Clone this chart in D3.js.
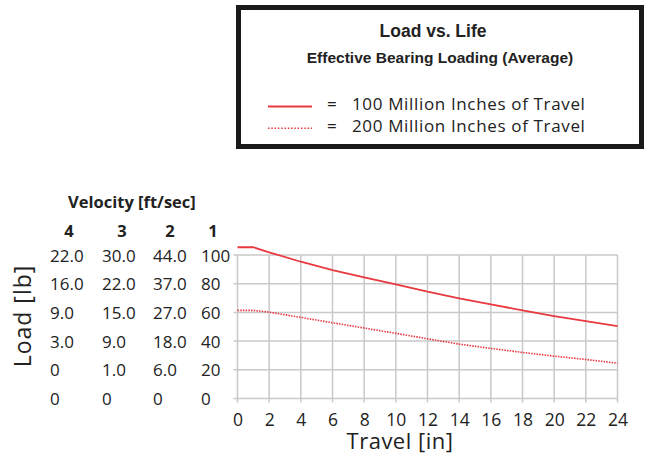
<!DOCTYPE html>
<html><head><meta charset="utf-8">
<script src="https://cdn.jsdelivr.net/npm/d3@7"></script>
<style>body{margin:0;background:#fff}svg{display:block}</style>
</head><body>
<script>
const travel = [0,1,2,4,6,8,10,12,14,16,18,20,22,24];
const load100 = [105.4,105.4,101.9,95.3,89.5,84.4,79.6,74.4,69.8,65.6,61.4,57.4,53.9,50.4];
const load200 = [61.4,61.4,60.2,56.5,52.8,49.1,45.4,41.6,37.9,34.9,32.1,29.5,27.2,24.6];
const xTicks = [0,2,4,6,8,10,12,14,16,18,20,22,24];
const yTicks = [0,20,40,60,80,100];
const velocities = ["4","3","2","1"];
const vel4 = ["0","0","3.0","9.0","16.0","22.0"];
const vel3 = ["0","1.0","9.0","15.0","22.0","30.0"];
const vel2 = ["0","6.0","18.0","27.0","37.0","44.0"];
const legendLabels = ["100 Million Inches of Travel","200 Million Inches of Travel"];

const W=645,H=460;
const svg=d3.select("body").append("svg").attr("width",W).attr("height",H);
const red="#e8393f", grid="#c9c9c9";
const font="'Open Sans', sans-serif";

const x=d3.scaleLinear().domain([0,24]).range([237.5,617.5]);
const y=d3.scaleLinear().domain([0,100]).range([398.5,255]);

// grid
const g=svg.append("g");
g.selectAll("line.v").data(xTicks).join("line")
  .attr("x1",d=>x(d)).attr("x2",d=>x(d)).attr("y1",y(100)).attr("y2",y(0)+4)
  .attr("stroke",grid).attr("stroke-width",1.5);
g.selectAll("line.h").data(yTicks).join("line")
  .attr("x1",x(0)-4).attr("x2",x(24)).attr("y1",d=>y(d)).attr("y2",d=>y(d))
  .attr("stroke",grid).attr("stroke-width",1.5);

// x axis labels
const xa=svg.append("g").attr("transform",`translate(0,${y(0)})`)
  .call(d3.axisBottom(x).tickValues(xTicks).tickSize(0).tickPadding(15));
xa.select(".domain").remove();
xa.selectAll("text").attr("font-family",font).attr("font-size",17.5).attr("fill","#222");

// lines
const line=d3.line().x((d,i)=>x(travel[i])).y(d=>y(d));
svg.append("path").datum(load100).attr("d",line).attr("fill","none").attr("stroke",red).attr("stroke-width",1.8);
svg.append("path").datum(load200).attr("d",line).attr("fill","none").attr("stroke",red).attr("stroke-width",1.6).attr("stroke-dasharray","1.5,1.2");

// velocity table
const cols=[{x:50,v:vel4},{x:102,v:vel3},{x:153,v:vel2}];
cols.forEach(c=>{
  svg.append("g").selectAll("text").data(c.v).join("text")
    .attr("x",c.x).attr("y",(d,i)=>y(yTicks[i])+6.5)
    .attr("font-family",font).attr("font-size",17).attr("fill","#222").text(d=>d);
});
svg.append("g").selectAll("text").data(yTicks).join("text")
  .attr("x",201).attr("y",d=>y(d)+6.5)
  .attr("font-family",font).attr("font-size",17).attr("fill","#222").text(d=>d);
const headX=[69,122,170,213];
svg.append("g").selectAll("text").data(velocities).join("text")
  .attr("x",(d,i)=>headX[i]).attr("y",237).attr("text-anchor","middle")
  .attr("font-family",font).attr("font-weight","bold").attr("font-size",16.5).attr("fill","#222").text(d=>d);
svg.append("text").attr("x",68).attr("y",208).attr("font-family",font).attr("font-weight","bold")
  .attr("font-size",16.5).attr("fill","#222").text("Velocity [ft/sec]");

// axis titles
svg.append("text").attr("transform","translate(31,316) rotate(-90)").attr("text-anchor","middle")
  .attr("font-family",font).attr("font-size",23).attr("letter-spacing",1.0).attr("fill","#222").text("Load [lb]");
svg.append("text").attr("x",400).attr("y",449).attr("text-anchor","middle")
  .attr("font-family",font).attr("font-size",22).attr("letter-spacing",0.5).attr("fill","#222").text("Travel [in]");

// legend box
svg.append("rect").attr("x",238.5).attr("y",7.5).attr("width",403).attr("height",139)
  .attr("fill","#fff").attr("stroke","#1a1a1a").attr("stroke-width",5);
svg.append("text").attr("x",433).attr("y",37).attr("text-anchor","middle")
  .attr("font-family","'Liberation Sans', Arial, sans-serif").attr("font-weight","bold").attr("font-size",17.5).attr("fill","#222").text("Load vs. Life");
svg.append("text").attr("x",440).attr("y",63).attr("text-anchor","middle")
  .attr("font-family","'Liberation Sans', Arial, sans-serif").attr("font-weight","bold").attr("font-size",15.5).attr("fill","#222").text("Effective Bearing Loading (Average)");
const ly=[106.5,128.3];
legendLabels.forEach((t,i)=>{
  const l=svg.append("line").attr("x1",268).attr("x2",312).attr("y1",ly[i]).attr("y2",ly[i])
    .attr("stroke",red).attr("stroke-width",i?1.6:2.2);
  if(i) l.attr("stroke-dasharray","1.5,1.8");
  svg.append("text").attr("x",327).attr("y",ly[i]+3.8).attr("font-family",font).attr("font-size",17).attr("fill","#222").text("=");
  svg.append("text").attr("x",352).attr("y",ly[i]+3.8).attr("font-family",font).attr("font-size",17).attr("letter-spacing",0.65).attr("fill","#222").text(t);
});
</script>
</body></html>
